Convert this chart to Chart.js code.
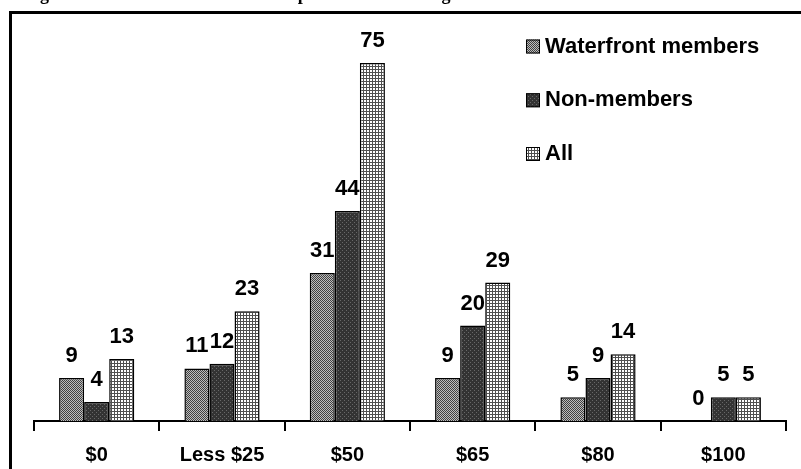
<!DOCTYPE html>
<html>
<head>
<meta charset="utf-8">
<script src="https://cdn.jsdelivr.net/npm/chart.js@4/dist/chart.umd.min.js"></script>
<style>
  html, body { margin: 0; padding: 0; background: #fff; }
  #wrap { position: relative; width: 801px; height: 469px; }
</style>
</head>
<body>
<div id="wrap"><canvas id="chart" width="801" height="469"></canvas></div>
<script>
// Amount respondents would pay, by membership group
const categories = ['$0', 'Less $25', '$50', '$65', '$80', '$100'];
const seriesNames = ['Waterfront members', 'Non-members', 'All'];
const waterfrontMembers = [9, 11, 31, 9, 5, 0];
const nonMembers = [4, 12, 44, 20, 9, 5];
const allRespondents = [13, 23, 75, 29, 14, 5];
const titleText = 'Figure 6: Amount residents would spend on boat storage';

// Small tiled fills that mimic the hatched bar shading
function makePattern(size, paint) {
  const tile = document.createElement('canvas');
  tile.width = size; tile.height = size;
  const g = tile.getContext('2d');
  paint(g, size);
  return document.createElement('canvas').getContext('2d').createPattern(tile, 'repeat');
}
const checkerFill = makePattern(2, (g) => {
  g.fillStyle = '#bdbdbd'; g.fillRect(0, 0, 2, 2);
  g.fillStyle = '#404040'; g.fillRect(0, 0, 1, 1); g.fillRect(1, 1, 1, 1);
});
const darkDotFill = makePattern(4, (g) => {
  g.fillStyle = '#333333'; g.fillRect(0, 0, 4, 4);
  g.fillStyle = '#686868'; g.fillRect(0, 0, 1, 1); g.fillRect(2, 2, 1, 1);
});
const gridFill = makePattern(3, (g) => {
  g.fillStyle = '#ffffff'; g.fillRect(0, 0, 3, 3);
  g.fillStyle = '#505050'; g.fillRect(0, 0, 3, 1); g.fillRect(0, 0, 1, 3);
});

const fills = [checkerFill, darkDotFill, gridFill];
const seriesValues = [waterfrontMembers, nonMembers, allRespondents];

const datasets = seriesNames.map((name, i) => ({
  label: name,
  data: seriesValues[i],
  backgroundColor: fills[i],
  borderColor: '#000',
  borderWidth: 1.5,
  categoryPercentage: 0.6,
  barPercentage: 1.0
}));

// Page frame and the cropped caption line above it
const framePlugin = {
  id: 'frame',
  beforeDraw(chart) {
    const ctx = chart.ctx;
    ctx.save();
    ctx.fillStyle = '#fff';
    ctx.fillRect(0, 0, chart.width, chart.height);
    ctx.fillStyle = '#000';
    ctx.font = 'bold 18px "Liberation Serif", "Times New Roman", serif';
    ctx.textBaseline = 'alphabetic';
    ctx.textAlign = 'left';
    ctx.fillText(titleText, 24, 0);
    ctx.strokeStyle = '#000';
    ctx.lineWidth = 3;
    ctx.strokeRect(10.5, 12.5, chart.width + 20, chart.height + 20);
    ctx.restore();
  }
};

// Value printed above each bar
const valueLabels = {
  id: 'valueLabels',
  afterDatasetsDraw(chart) {
    const ctx = chart.ctx;
    ctx.save();
    ctx.fillStyle = '#000';
    ctx.font = 'bold 22px "Liberation Sans", Arial, sans-serif';
    ctx.textAlign = 'center';
    ctx.textBaseline = 'alphabetic';
    chart.data.datasets.forEach((ds, di) => {
      chart.getDatasetMeta(di).data.forEach((bar, idx) => {
        ctx.fillText(String(ds.data[idx]), bar.x, bar.y - 16);
      });
    });
    ctx.restore();
  }
};

// Stacked key in the upper right of the plot
const keyPlugin = {
  id: 'key',
  afterDraw(chart) {
    const ctx = chart.ctx;
    const x0 = 526, top0 = 39.5, step = 53.75, box = 14;
    ctx.save();
    ctx.font = 'bold 22px "Liberation Sans", Arial, sans-serif';
    ctx.textAlign = 'left';
    ctx.textBaseline = 'alphabetic';
    chart.data.datasets.forEach((ds, i) => {
      const y = top0 + i * step;
      ctx.fillStyle = ds.backgroundColor;
      ctx.fillRect(x0, y, box, box);
      ctx.strokeStyle = '#000';
      ctx.lineWidth = 1;
      ctx.strokeRect(x0 + 0.5, y + 0.5, box - 1, box - 1);
      ctx.fillStyle = '#000';
      ctx.fillText(ds.label, x0 + 19, y + 13);
    });
    ctx.restore();
  }
};

new Chart(document.getElementById('chart'), {
  type: 'bar',
  data: { labels: categories, datasets },
  options: {
    responsive: false,
    devicePixelRatio: 1,
    animation: false,
    layout: { padding: { left: 34, right: 15, top: 39, bottom: 0 } },
    plugins: { legend: { display: false }, tooltip: { enabled: false } },
    scales: {
      x: {
        offset: true,
        afterFit(scale) { scale.height = 48; },
        grid: {
          display: true,
          offset: true,
          drawOnChartArea: false,
          drawTicks: true,
          tickLength: 10,
          tickWidth: 2,
          tickColor: '#000',
          color: '#000',
          lineWidth: 2
        },
        border: { display: true, color: '#000', width: 2 },
        ticks: {
          color: '#000',
          padding: 12,
          font: { family: '"Liberation Sans", Arial, sans-serif', size: 20, weight: 'bold' }
        }
      },
      y: { display: false, min: 0, max: 80 }
    }
  },
  plugins: [framePlugin, valueLabels, keyPlugin]
});
</script>
</body>
</html>
